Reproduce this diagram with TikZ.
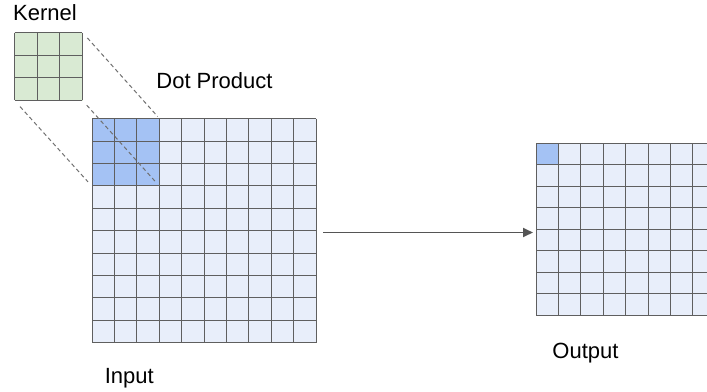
\documentclass[tikz,border=0pt]{standalone}
\usepackage{fontspec}
\setmainfont{Liberation Sans}
\usetikzlibrary{arrows.meta}

\definecolor{cellblue}{HTML}{E8EEFA}
\definecolor{hiblue}{HTML}{A4C2F4}
\definecolor{kgreen}{HTML}{D9EAD3}
\definecolor{gridgray}{HTML}{5F5F5F}
\definecolor{dashgray}{HTML}{707070}
\definecolor{arrowgray}{HTML}{555555}

\begin{document}
\begin{tikzpicture}[x=1pt, y=-1pt,
  lbl/.style={font=\fontsize{22}{26}\selectfont, inner sep=0pt, anchor=base},
  area/.style={draw=none, inner sep=0pt, anchor=north west},
  gridline/.style={draw=gridgray, line width=1pt},
  guide/.style={draw=dashgray, line width=1pt, dash pattern=on 4pt off 3pt},
  flow/.style={draw=arrowgray, line width=1.8pt, -{Triangle[length=10pt,width=9pt]}}]
\useasboundingbox (0,0) rectangle (707,391);

% ---- kernel: 3x3 ----
\def\kx{14.7}\def\ky{32.7}\def\kc{22.53}
\node[area, fill=kgreen, minimum width=67.6, minimum height=67.6] (kernel) at (\kx,\ky) {};
\foreach \i in {0,...,3} {
  \draw[gridline] (\kx+\i*\kc,\ky) -- (\kx+\i*\kc,\ky+3*\kc);
  \draw[gridline] (\kx,\ky+\i*\kc) -- (\kx+3*\kc,\ky+\i*\kc);
}

% ---- input: 10x10 with the 3x3 window shaded ----
\def\ix{92}\def\iy{118.7}\def\ic{22.4}
\node[area, fill=cellblue, minimum width=224, minimum height=224] (input) at (\ix,\iy) {};
\node[area, fill=hiblue, minimum width=67.2, minimum height=67.2] (window) at (\ix,\iy) {};
\foreach \i in {0,...,10} {
  \draw[gridline] (\ix+\i*\ic,\iy) -- (\ix+\i*\ic,\iy+10*\ic);
  \draw[gridline] (\ix,\iy+\i*\ic) -- (\ix+10*\ic,\iy+\i*\ic);
}

% ---- projection of the kernel onto the window ----
\draw[guide, shorten <=7pt, shorten >=3pt] (kernel.north east) -- (window.north east);
\draw[guide, shorten <=6pt, shorten >=7pt] (kernel.south east) -- (window.south east);
\draw[guide, shorten <=8pt, shorten >=6pt] (kernel.south west) -- (window.south west);

% ---- output: 8x8, first cell shaded, cut by the page edge ----
\def\ox{536}\def\oy{143.3}\def\ocw{22.4}\def\och{21.5}
\begin{scope}
\clip (0,0) rectangle (707,391);
\node[area, fill=cellblue, minimum width=179.2, minimum height=172] (output) at (\ox,\oy) {};
\node[area, fill=hiblue, minimum width=22.4, minimum height=21.5] (first) at (\ox,\oy) {};
\foreach \i in {0,...,8} {
  \draw[gridline] (\ox+\i*\ocw,\oy) -- (\ox+\i*\ocw,\oy+8*\och);
  \draw[gridline] (\ox,\oy+\i*\och) -- (\ox+8*\ocw,\oy+\i*\och);
}
\end{scope}

% ---- convolution arrow ----
\draw[flow] ([shift={(7,1.6)}]input.east) -- ([shift={(-3,3)}]output.west);

% ---- labels ----
\node[lbl] (kernellbl) at (45,20.3) {Kernel};
\node[lbl] (dotlbl) at (214.5,88.7) {Dot Product};
\node[lbl] (inputlbl) at (129.3,383) {Input};
\node[lbl] (outputlbl) at (585.5,358) {Output};
\end{tikzpicture}
\end{document}
